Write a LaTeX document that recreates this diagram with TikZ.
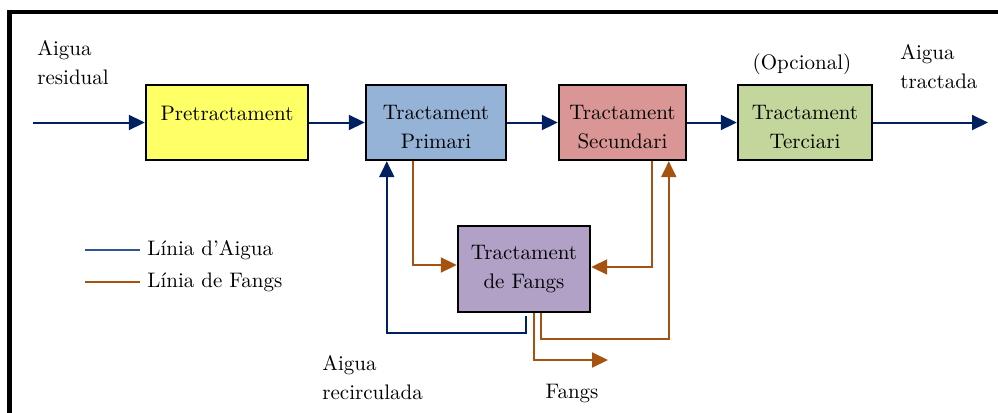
\documentclass[tikz,border=0pt]{standalone}
\usetikzlibrary{calc}
\usetikzlibrary{arrows.meta}
\definecolor{cPretract}{RGB}{255, 255, 102}
\definecolor{cPrimari}{RGB}{149, 179, 215}
\definecolor{cSecundari}{RGB}{217, 150, 148}
\definecolor{cTerciari}{RGB}{195, 214, 155}
\definecolor{cFangs}{RGB}{178, 161, 199}
\definecolor{cWater}{RGB}{0, 32, 96}
\definecolor{cWaterLegend}{RGB}{47, 85, 151}
\definecolor{cSludge}{RGB}{166, 82, 16}
\newcommand{\stagePad}{\rule{0pt}{12pt}}
\newcommand{\stageDrop}{\rule[-9.5pt]{0pt}{0pt}}
\tikzset{
    boxStage/.style={
        draw=black,
        line width=1.2pt,
        minimum height=37.5pt,
        align=center,
        inner sep=0pt,
        font=\fontsize{10.5}{14.5}\selectfont
    },
    edgeWater/.style={
        arrows={-Triangle[length=8pt,width=7.5pt]},
        color=cWater,
        line width=1pt
    },
    edgeSludge/.style={
        arrows={-Triangle[length=8pt,width=7.5pt]},
        color=cSludge,
        line width=1pt
    },
    lineLegend/.style={
        line width=1pt
    },
    textItem/.style={
        align=left,
        inner sep=0pt,
        font=\fontsize{10.5}{14.5}\selectfont
    },
}

\begin{document}
\begin{tikzpicture}[x=0.5pt,y=-0.5pt]
    \useasboundingbox (0,0) rectangle (998,413);

    % frame
    \draw[line width=2.2pt] (9.5,413) -- (9.5,12) -- (998,12);

    \node[boxStage,fill=cPretract,minimum width=81pt] (pre) at (227,122.5) {Pretractament\stageDrop};
    \node[boxStage,fill=cPrimari,minimum width=70pt] (prim) at (436,122.5) {\stagePad Tractament\\Primari};
    \node[boxStage,fill=cSecundari,minimum width=63.5pt] (sec) at (622.5,122.5) {\stagePad Tractament\\Secundari};
    \node[boxStage,fill=cTerciari,minimum width=67pt] (ter) at (805,122.5) {\stagePad Tractament\\Terciari};
    \node[boxStage,fill=cFangs,minimum width=66pt,minimum height=43pt] (fangs) at (524,269) {Tractament\\de Fangs};

    \coordinate (inflow) at (33,122.5);
    \coordinate (outflow) at (988,122.5);
    \coordinate (recstart) at (526,316);
    \coordinate (fangsout) at (608,360);

    \draw[edgeWater] (inflow) -- (pre);
    \draw[edgeWater] (pre) -- (prim);
    \draw[edgeWater] (prim) -- (sec);
    \draw[edgeWater] (sec) -- (ter);
    \draw[edgeWater] (ter) -- (outflow);
    \draw[edgeWater] (recstart) -- ++(0,17) -| ($(prim.south west)+(22,0)$);

    \draw[edgeSludge] ($(prim.south west)+(48,0)$) |- ($(fangs.west)+(0,-4)$);
    \draw[edgeSludge] ($(sec.south west)+(94,0)$) |- ($(fangs.east)+(0,-2)$);
    \draw[edgeSludge] ($(fangs.south west)+(84,0)$) -- ++(0,26) -| ($(sec.south west)+(111,0)$);
    \draw[edgeSludge] ($(fangs.south west)+(77,0)$) |- (fangsout);

    \node[textItem,anchor=north west] (residual) at (37,40) {Aigua\\residual};
    \node[textItem,anchor=north] (opcional) at (802,53) {(Opcional)};
    \node[textItem,anchor=north west] (tractada) at (900,44) {Aigua\\tractada};
    \node[textItem,anchor=north west] (recirculada) at (322,355) {Aigua\\recirculada};
    \node[textItem,anchor=north] (fangstext) at (572,384) {Fangs};

    % legend
    \coordinate (lgWaterStart) at (85,250);
    \coordinate (lgSludgeStart) at (85,282);
    \node[textItem,anchor=west,inner sep=3.5pt] (lgWater) at (140,250) {L\'inia d'Aigua};
    \node[textItem,anchor=west,inner sep=3.5pt] (lgSludge) at (140,282) {L\'inia de Fangs};
    \draw[lineLegend,cWaterLegend] (lgWaterStart) -- (lgWater.west);
    \draw[lineLegend,cSludge] (lgSludgeStart) -- (lgSludge.west);
\end{tikzpicture}
\end{document}
